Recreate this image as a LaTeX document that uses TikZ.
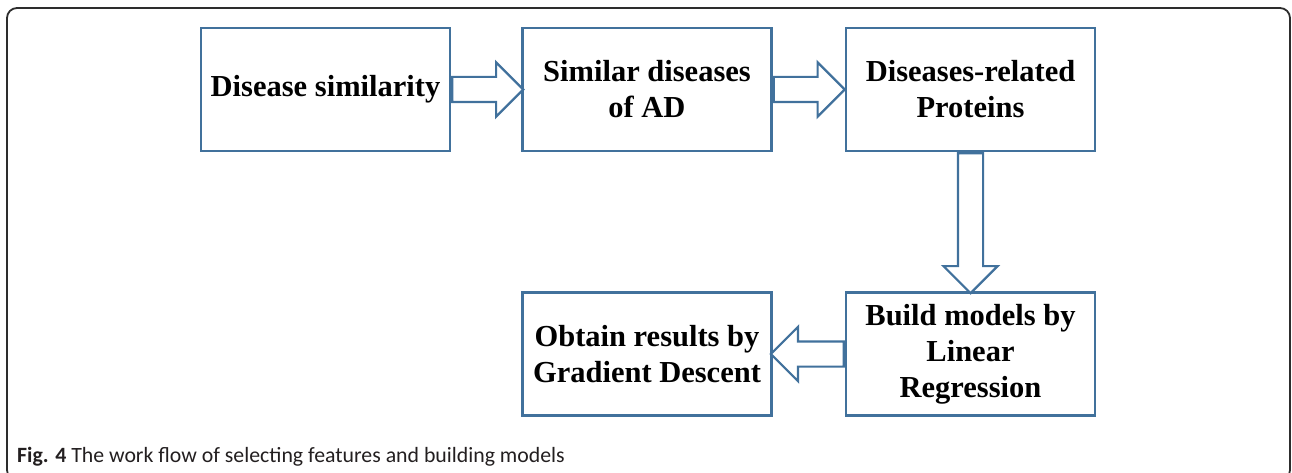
\documentclass[tikz,border=0pt]{standalone}
\usepackage{fontspec}
\setmainfont{Liberation Serif}
\newfontfamily\capfont{Carlito}
\usetikzlibrary{shapes,arrows,positioning,calc}
\definecolor{office-bl}{RGB}{65,113,156}
\definecolor{frame-gr}{RGB}{45,45,45}
\definecolor{caption-gr}{RGB}{35,31,32}
\tikzstyle{block}=[draw=office-bl,line width=2.2pt,fill=white,minimum width=249pt,minimum height=123pt,align=center,font=\fontsize{30.5}{36}\selectfont\bfseries]
\tikzstyle{hollow}=[draw=office-bl,line width=2.2pt,fill=white,single arrow,single arrow head extend=14.5pt,inner xsep=0pt,inner ysep=11.5pt,anchor=tail]
\tikzstyle{caption}=[anchor=base west,inner sep=0pt,text=caption-gr,font=\capfont\fontsize{21.8}{25}\selectfont]

\begin{document}
\begin{tikzpicture}[x=1pt,y=1pt]
  \useasboundingbox (0,0) rectangle (1292,472);

  % outer figure frame, runs off the bottom edge
  \draw[frame-gr,line width=1.8pt,rounded corners=10pt] (7,-8) rectangle (1290,464);

  \node[block] at (325.5,382.5) (simil) {Disease similarity};
  \node[block] at (647,382.5) (simad) {Similar diseases\\of AD};
  \node[block] at (970.5,382.5) (prot) {Diseases-related\\Proteins};
  \node[block] at (prot|-0,118) (linreg) {Build models by\\Linear\\Regression};
  \node[block] at (simad|-linreg) (gradd) {Obtain results by\\Gradient Descent};

  \node[hollow,minimum height=71pt] at (simil.east) (a1) {};
  \node[hollow,minimum height=71pt] at (simad.east) (a2) {};
  \node[hollow,rotate=-90,minimum height=140pt] at (prot.south) (a3) {};
  \node[hollow,rotate=180,minimum height=73pt] at (linreg.west) (a4) {};

  \node[caption] at (17,10) (cap) {\textbf{Fig. 4} The work flow of selecting features and building models};

\end{tikzpicture}
\end{document}
